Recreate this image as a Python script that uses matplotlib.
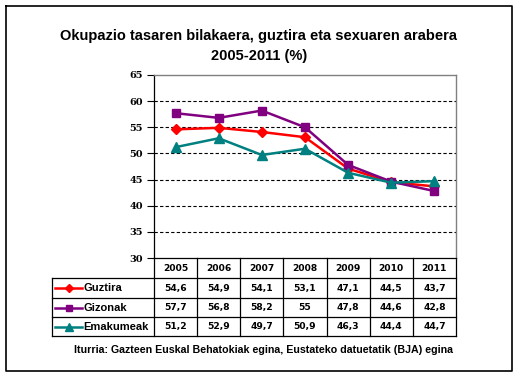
import matplotlib
matplotlib.use("Agg")
import matplotlib.pyplot as plt

years = ["2005", "2006", "2007", "2008", "2009", "2010", "2011"]
series_names = ["Guztira", "Gizonak", "Emakumeak"]
guztira = [54.6, 54.9, 54.1, 53.1, 47.1, 44.5, 43.7]
gizonak = [57.7, 56.8, 58.2, 55.0, 47.8, 44.6, 42.8]
emakumeak = [51.2, 52.9, 49.7, 50.9, 46.3, 44.4, 44.7]
table_labels = [
    ["54,6", "54,9", "54,1", "53,1", "47,1", "44,5", "43,7"],
    ["57,7", "56,8", "58,2", "55", "47,8", "44,6", "42,8"],
    ["51,2", "52,9", "49,7", "50,9", "46,3", "44,4", "44,7"],
]
title = "Okupazio tasaren bilakaera, guztira eta sexuaren arabera\n2005-2011 (%)"
source = "Iturria: Gazteen Euskal Behatokiak egina, Eustateko datuetatik (BJA) egina"

colors = ["#FF0000", "#800080", "#008080"]
markers = ["D", "s", "^"]
msizes = [5.5, 6, 7]

W, H = 521, 379
fig = plt.figure(figsize=(W / 100, H / 100), dpi=100)
fig.patch.set_facecolor("white")

bg = fig.add_axes([0, 0, 1, 1], zorder=0)
bg.set_xlim(0, W)
bg.set_ylim(H, 0)
bg.axis("off")
bg.patch.set_alpha(0)

bg.plot([5.5, 512, 512, 5.5, 5.5], [5.5, 5.5, 371, 371, 5.5], color="black", lw=1.2)

L, R, T, B = 154, 456, 75, 258
ax = fig.add_axes([L / W, 1 - B / H, (R - L) / W, (B - T) / H], zorder=2)
ax.patch.set_alpha(0)
x = list(range(len(years)))
for vals, c, m, ms, name in zip([guztira, gizonak, emakumeak], colors, markers, msizes, series_names):
    ax.plot(x, vals, color=c, marker=m, markersize=ms, lw=1.8, label=name, zorder=3)
ax.set_xlim(-0.5, len(years) - 0.5)
ax.set_ylim(30, 65)
ax.set_yticks(range(30, 66, 5))
ax.set_yticklabels([str(v) for v in range(30, 66, 5)], fontfamily="DejaVu Serif",
                   fontweight="bold", fontsize=7)
for v in range(35, 65, 5):
    ax.axhline(v, color="black", lw=0.8, ls=(0, (3, 2)), zorder=1)
ax.tick_params(axis="y", length=5, width=0.8, pad=3, direction="out")
ax.set_xticks([i - 0.5 for i in range(1, len(years))])
ax.set_xticklabels([])
ax.tick_params(axis="x", length=0)
for s in ["top", "right"]:
    ax.spines[s].set_color("#808080")
    ax.spines[s].set_linewidth(1.0)
for s in ["left", "bottom"]:
    ax.spines[s].set_color("black")
    ax.spines[s].set_linewidth(0.9)

colw = (R - L) / len(years)
rows_y = [258, 278, 297.5, 317, 336]
tbl_left = 52
lw_t = 0.9
for i in range(len(years) + 1):
    bg.plot([L + i * colw] * 2, [258, 336], color="black", lw=lw_t)
bg.plot([tbl_left, tbl_left], [278, 336], color="black", lw=lw_t)
for yy in rows_y[1:]:
    bg.plot([tbl_left, R], [yy, yy], color="black", lw=lw_t)

for i, yr in enumerate(years):
    bg.text(L + (i + 0.5) * colw, (rows_y[0] + rows_y[1]) / 2 + 0.5, yr, ha="center", va="center",
            fontsize=6.6, fontweight="bold", fontfamily="DejaVu Sans")
for r in range(3):
    yc = (rows_y[r + 1] + rows_y[r + 2]) / 2 + 0.5
    for i in range(len(years)):
        bg.text(L + (i + 0.5) * colw, yc, table_labels[r][i], ha="center", va="center",
                fontsize=6.6, fontweight="bold", fontfamily="DejaVu Sans")
    bg.plot([55, 82], [yc, yc], color=colors[r], lw=1.8)
    bg.plot([68.5], [yc], marker=markers[r], color=colors[r], markersize=msizes[r] - 1)
    bg.text(83, yc, series_names[r], ha="left", va="center", fontsize=8, fontweight="bold",
            fontfamily="Liberation Sans")

bg.text(259, 46, title, ha="center", va="center", fontsize=10.5, fontweight="bold",
        fontfamily="Liberation Sans", linespacing=1.5)
bg.text(264, 350, source, ha="center", va="center", fontsize=7.7, fontweight="bold",
        fontfamily="Liberation Sans")

fig.savefig("out.png", dpi=100, facecolor="white")
